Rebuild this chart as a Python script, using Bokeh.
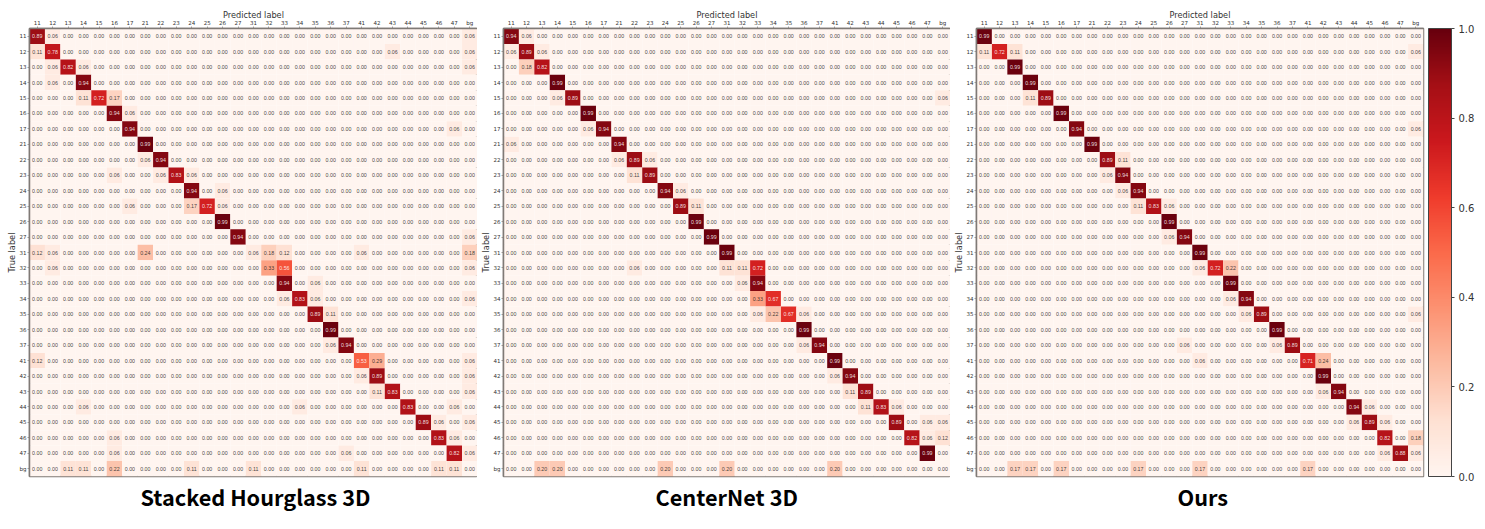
from bokeh.embed import file_html
from bokeh.resources import INLINE
from bokeh.plotting import figure
from bokeh.layouts import row, column, Spacer
from bokeh.models import (ColumnDataSource, FactorRange, LinearColorMapper, ColorBar,
                          FixedTicker, Title, PrintfTickFormatter, CategoricalAxis)
from bokeh.palettes import Reds256

labels = ["11","12","13","14","15","16","17","21","22","23","24","25","26","27",
          "31","32","33","34","35","36","37","41","42","43","44","45","46","47","bg"]

hourglass_3d = [
 ("11","11",.89),("11","12",.06),("11","bg",.06),
 ("12","11",.11),("12","12",.78),("12","43",.06),("12","bg",.06),
 ("13","12",.06),("13","13",.82),("13","14",.06),("13","bg",.06),
 ("14","12",.06),("14","14",.94),
 ("15","14",.11),("15","15",.72),("15","16",.17),
 ("16","16",.94),("16","17",.06),
 ("17","17",.94),("17","47",.06),
 ("21","21",.99),
 ("22","21",.06),("22","22",.94),
 ("23","16",.06),("23","22",.06),("23","23",.83),("23","24",.06),
 ("24","24",.94),("24","26",.06),
 ("25","17",.06),("25","24",.17),("25","25",.72),("25","26",.06),
 ("26","26",.99),
 ("27","27",.94),("27","bg",.06),
 ("31","11",.12),("31","12",.06),("31","21",.24),("31","31",.06),("31","32",.18),("31","33",.12),("31","41",.06),("31","bg",.18),
 ("32","12",.06),("32","32",.33),("32","33",.56),("32","bg",.06),
 ("33","33",.94),("33","35",.06),
 ("34","33",.06),("34","34",.83),("34","35",.06),("34","bg",.06),
 ("35","35",.89),("35","36",.11),
 ("36","36",.99),
 ("37","36",.06),("37","37",.94),
 ("41","11",.12),("41","41",.53),("41","42",.29),("41","bg",.06),
 ("42","41",.06),("42","42",.89),("42","bg",.06),
 ("43","42",.11),("43","43",.83),("43","bg",.06),
 ("44","14",.06),("44","34",.06),("44","44",.83),("44","47",.06),
 ("45","45",.89),("45","46",.06),("45","bg",.06),
 ("46","16",.06),("46","46",.83),("46","47",.06),
 ("47","16",.06),("47","37",.06),("47","47",.82),("47","bg",.06),
 ("bg","13",.11),("bg","14",.11),("bg","16",.22),("bg","24",.11),("bg","31",.11),("bg","41",.11),("bg","46",.11),("bg","47",.11),
]

centernet_3d = [
 ("11","11",.94),("11","12",.06),
 ("12","11",.06),("12","12",.89),("12","13",.06),
 ("13","12",.18),("13","13",.82),
 ("14","14",.99),
 ("15","14",.06),("15","15",.89),("15","bg",.06),
 ("16","16",.99),
 ("17","16",.06),("17","17",.94),
 ("21","11",.06),("21","21",.94),
 ("22","21",.06),("22","22",.89),("22","23",.06),
 ("23","22",.11),("23","23",.89),
 ("24","24",.94),("24","25",.06),
 ("25","25",.89),("25","26",.11),
 ("26","26",.99),
 ("27","27",.99),
 ("31","31",.99),
 ("32","22",.06),("32","31",.11),("32","32",.11),("32","33",.72),
 ("33","32",.06),("33","33",.94),
 ("34","33",.33),("34","34",.67),
 ("35","33",.06),("35","34",.22),("35","35",.67),("35","36",.06),
 ("36","36",.99),
 ("37","36",.06),("37","37",.94),
 ("41","41",.99),
 ("42","41",.06),("42","42",.94),
 ("43","42",.11),("43","43",.89),
 ("44","43",.11),("44","44",.83),("44","45",.06),
 ("45","45",.89),("45","47",.06),("45","bg",.06),
 ("46","46",.82),("46","47",.06),("46","bg",.12),
 ("47","47",.99),
 ("bg","13",.20),("bg","14",.20),("bg","24",.20),("bg","31",.20),("bg","41",.20),
]

ours = [
 ("11","11",.99),
 ("12","11",.11),("12","12",.72),("12","13",.11),("12","bg",.06),
 ("13","13",.99),
 ("14","14",.99),
 ("15","14",.11),("15","15",.89),
 ("16","16",.99),
 ("17","17",.94),("17","bg",.06),
 ("21","21",.99),
 ("22","22",.89),("22","23",.11),
 ("23","22",.06),("23","23",.94),
 ("24","23",.06),("24","24",.94),
 ("25","24",.11),("25","25",.83),("25","26",.06),
 ("26","26",.99),
 ("27","26",.06),("27","27",.94),
 ("31","31",.99),
 ("32","31",.06),("32","32",.72),("32","33",.22),
 ("33","33",.99),
 ("34","33",.06),("34","34",.94),
 ("35","34",.06),("35","35",.89),("35","bg",.06),
 ("36","36",.99),
 ("37","27",.06),("37","36",.06),("37","37",.89),
 ("41","31",.06),("41","41",.71),("41","42",.24),
 ("42","42",.99),
 ("43","42",.06),("43","43",.94),
 ("44","44",.94),("44","45",.06),
 ("45","44",.06),("45","45",.89),("45","46",.06),
 ("46","46",.82),("46","bg",.18),
 ("47","46",.06),("47","47",.88),("47","bg",.06),
 ("bg","13",.17),("bg","14",.17),("bg","16",.17),("bg","24",.17),("bg","31",.17),("bg","41",.17),
]

captions = ["Stacked Hourglass 3D", "CenterNet 3D", "Ours"]
colorbar_ticks = [0.0, 0.2, 0.4, 0.6, 0.8, 1.0]

mapper = LinearColorMapper(palette=list(Reds256)[::-1], low=0, high=1)
AXIS = "#7f7a76"
TEXT = "#333333"


def panel(entries, caption, frame_w, caption_offset):
    lookup = {(r, c): v for r, c, v in entries}
    xs, ys, vs, txt, tc = [], [], [], [], []
    for r in labels:
        for c in labels:
            v = lookup.get((r, c), 0.0)
            xs.append(c); ys.append(r); vs.append(v)
            txt.append(f"{v:.2f}")
            tc.append("#ffffff" if v > 0.5 else "#222222")
    src = ColumnDataSource(dict(x=xs, y=ys, v=vs, t=txt, tc=tc))
    p = figure(frame_width=frame_w, frame_height=448, width=None, height=None,
               x_range=FactorRange(factors=labels), y_range=FactorRange(factors=labels[::-1]),
               x_axis_location="above", output_backend="svg", toolbar_location=None,
               min_border=0)
    p.rect("x", "y", width=1, height=1, source=src, line_color=None,
           fill_color={"field": "v", "transform": mapper})
    p.text("x", "y", text="t", source=src, text_color="tc", text_font_size="5.3px",
           text_align="center", text_baseline="middle", text_alpha=0.85)
    p.grid.visible = False
    p.outline_line_color = AXIS
    p.outline_line_width = 1.5
    for ax in (p.xaxis[0], p.yaxis[0]):
        ax.axis_line_color = AXIS
        ax.axis_line_width = 1.5
        ax.major_tick_line_color = AXIS
        ax.major_tick_line_width = 0.7
        ax.major_tick_out = 2
        ax.major_tick_in = 0
        ax.minor_tick_line_color = None
        ax.major_label_text_font = "DejaVu Sans"
        ax.major_label_text_font_size = "5.5px"
        ax.major_label_text_color = TEXT
        ax.major_label_standoff = 1
        ax.axis_label_text_font = "DejaVu Sans"
        ax.axis_label_text_font_style = "normal"
        ax.axis_label_text_font_size = "8.2px"
        ax.axis_label_text_color = TEXT
    p.xaxis[0].axis_label_standoff = -3
    p.yaxis[0].axis_label_standoff = 0
    p.xaxis.axis_label = "Predicted label"
    p.yaxis.axis_label = "True label"
    p.add_layout(Title(text=caption, align="left", offset=caption_offset,
                       text_font="Noto Sans CJK KR", text_font_style="bold",
                       text_font_size="21.7px", text_color="#000000", standoff=5), "below")
    return p


p1 = panel(hourglass_3d, captions[0], 448, 111)
p2 = panel(centernet_3d, captions[1], 447, 152)
p3 = panel(ours, captions[2], 447, 201)

# An unlabelled, invisible axis opens the gap between the last matrix and its colour bar.
gap = CategoricalAxis(major_tick_out=5, major_tick_in=0, major_tick_line_color=None,
                      axis_line_color=None, major_label_text_color=None,
                      major_label_text_font_size="1px", major_label_standoff=0)
p3.add_layout(gap, "right")

cb = ColorBar(color_mapper=mapper, width=23, padding=0, margin=0, location=(0, 0),
              ticker=FixedTicker(ticks=colorbar_ticks),
              formatter=PrintfTickFormatter(format="%.1f"),
              bar_line_color="#444444", bar_line_width=1,
              major_tick_line_color="#444444", major_tick_out=3, major_tick_in=0,
              minor_tick_line_color=None,
              major_label_text_font="DejaVu Sans", major_label_text_font_size="10px",
              major_label_text_color=TEXT, label_standoff=4)
p3.add_layout(cb, "right")

page = column(Spacer(height=6),
              row(Spacer(width=3), p1, p2, p3, spacing=0),
              spacing=0)
open("out.html", "w").write(file_html(page, INLINE))
